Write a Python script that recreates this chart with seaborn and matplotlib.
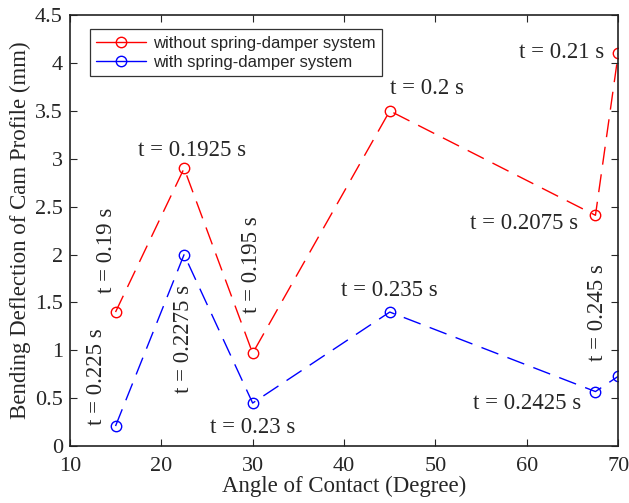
import matplotlib
matplotlib.use("Agg")
import matplotlib.pyplot as plt
from matplotlib.lines import Line2D
import seaborn as sns
import pandas as pd

angles = [15, 22.5, 30, 45, 67.5, 70]
without_sd = [1.40, 2.90, 0.97, 3.50, 2.41, 4.10]
with_sd = [0.21, 2.00, 0.45, 1.40, 0.57, 0.73]
series_names = ["without spring-damper system", "with spring-damper system"]
colors = ["red", "blue"]

labels_without = ["t = 0.19 s", "t = 0.1925 s", "t = 0.195 s", "t = 0.2 s", "t = 0.2075 s", "t = 0.21 s"]
labels_with = ["t = 0.225 s", "t = 0.2275 s", "t = 0.23 s", "t = 0.235 s", "t = 0.2425 s", "t = 0.245 s"]
# label placement (data coords) and rotation
pos_without = [(14.05, 2.04, 90), (23.4, 3.09, 0), (29.9, 1.90, 90), (49.1, 3.73, 0), (59.7, 2.32, 0), (63.8, 4.11, 0)]
pos_with = [(12.96, 0.73, 90), (22.4, 1.12, 90), (30.0, 0.20, 0), (45.0, 1.63, 0), (60.0, 0.45, 0), (67.7, 1.39, 90)]

x_ticks = [10, 20, 30, 40, 50, 60, 70]
y_ticks = [0, 0.5, 1, 1.5, 2, 2.5, 3, 3.5, 4, 4.5]

df = pd.DataFrame({
    "angle": angles * 2,
    "deflection": without_sd + with_sd,
    "series": [series_names[0]] * len(angles) + [series_names[1]] * len(angles),
})

sns.set_style("ticks")
plt.rcParams["font.family"] = ["Liberation Serif", "DejaVu Serif"]
FS = 16.5
TFS = 16

fig = plt.figure(figsize=(6.29, 5.03), dpi=100)
ax = fig.add_axes([0.111, 0.113, 0.872, 0.857])

for name, col in zip(series_names, colors):
    sub = df[df["series"] == name]
    sns.lineplot(data=sub, x="angle", y="deflection", ax=ax, color=col,
                 linewidth=1.0, linestyle=(0, (13, 7)), marker="o", markersize=7.5,
                 markerfacecolor="none", markeredgecolor=col, markeredgewidth=1.0,
                 legend=False, sort=False)

for txt, (x, y, r) in zip(labels_without, pos_without):
    ax.text(x, y, txt, rotation=r, ha="center", va="center", fontsize=FS)
for txt, (x, y, r) in zip(labels_with, pos_with):
    ax.text(x, y, txt, rotation=r, ha="center", va="center", fontsize=FS)

ax.set_xlim(10, 70)
ax.set_ylim(0, 4.5)
ax.set_xticks(x_ticks)
ax.set_xticklabels([str(v) for v in x_ticks])
ax.set_yticks(y_ticks)
ax.set_yticklabels([f"{v:g}" for v in y_ticks])
ax.tick_params(direction="in", top=True, right=True, labelsize=TFS, length=5, width=0.8)
ax.tick_params(axis="x", pad=8)
ax.tick_params(axis="y", pad=5)
for s in ax.spines.values():
    s.set_visible(True)
    s.set_linewidth(1.2)
    s.set_color("#222222")

ax.set_xlabel("Angle of Contact (Degree)", fontsize=FS, labelpad=0)
ax.set_ylabel("Bending Deflection of Cam Profile (mm)", fontsize=FS, labelpad=3)

handles = [Line2D([0], [0], color=c, lw=1.0, marker="o", markersize=7.5,
                  markerfacecolor="none", markeredgecolor=c) for c in colors]
leg = ax.legend(handles, series_names, loc="upper left", bbox_to_anchor=(0.036, 0.968),
                borderaxespad=0,
                prop={"family": "Liberation Sans", "size": 12}, frameon=True,
                fancybox=False, edgecolor="black", handlelength=3.0,
                borderpad=0.4, labelspacing=0.25, handletextpad=0.4)
leg.get_frame().set_linewidth(0.9)

fig.savefig("out.png", dpi=100)
